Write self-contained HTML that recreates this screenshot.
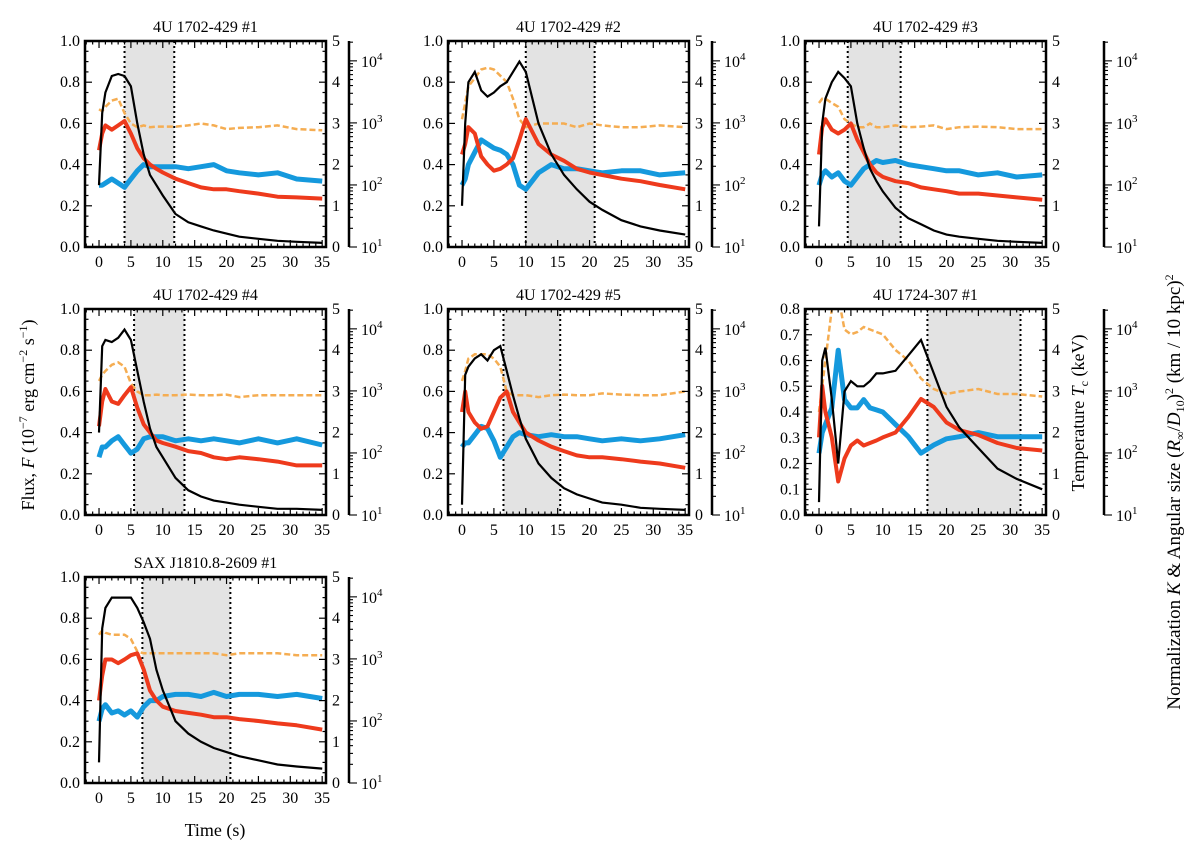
<!DOCTYPE html>
<html><head><meta charset="utf-8"><style>
body{margin:0;background:#fff;}
svg text{font-family:"Liberation Serif","DejaVu Serif",serif;fill:#000;}
</style></head><body>
<svg id="fig" width="1200" height="858" viewBox="0 0 1200 858" xmlns="http://www.w3.org/2000/svg">
<text x="0" y="0" transform="translate(34,415) rotate(-90)" text-anchor="middle" font-size="18">Flux, <tspan font-style="italic">F</tspan> (10<tspan dy="-7" font-size="12">−7</tspan><tspan dy="7"> erg cm</tspan><tspan dy="-7" font-size="12">−2</tspan><tspan dy="7"> s</tspan><tspan dy="-7" font-size="12">−1</tspan><tspan dy="7">)</tspan></text>
<text x="215" y="836" text-anchor="middle" font-size="18">Time (s)</text>
<text transform="translate(1084,413) rotate(-90)" text-anchor="middle" font-size="18">Temperature <tspan font-style="italic">T</tspan><tspan dy="4" font-size="12">c</tspan><tspan dy="-4"> (keV)</tspan></text>
<text transform="translate(1180,492) rotate(-90)" text-anchor="middle" font-size="19">Normalization <tspan font-style="italic">K</tspan> &amp; Angular size (<tspan font-style="italic">R</tspan><tspan dy="4" font-size="12">∞</tspan><tspan dy="-4">/</tspan><tspan font-style="italic">D</tspan><tspan dy="4" font-size="12">10</tspan><tspan dy="-4">)</tspan><tspan dy="-7" font-size="12">2</tspan><tspan dy="7"> (km / 10 kpc)</tspan><tspan dy="-7" font-size="12">2</tspan></text>
</svg>
<script>
const NS='http://www.w3.org/2000/svg';
const svg=document.getElementById('fig');
const T=[0,0.5,1,2,3,4,5,6,7,8,9,10,12,14,16,18,20,22,25,28,31,35];
const titles=['4U 1702-429 #1','4U 1702-429 #2','4U 1702-429 #3','4U 1702-429 #4','4U 1702-429 #5','4U 1724-307 #1','SAX J1810.8-2609 #1'];
const fluxMax=[1,1,1,1,1,0.8,1];
const shadeStart=[4,10,4.5,5.5,6.5,17,6.8];
const shadeEnd=[11.8,20.8,12.8,13.4,15.4,31.6,20.6];
const flux1=[0.3,0.65,0.75,0.83,0.84,0.83,0.78,0.6,0.45,0.35,0.3,0.25,0.16,0.12,0.1,0.08,0.065,0.05,0.04,0.03,0.025,0.02];
const flux2=[0.2,0.6,0.8,0.85,0.76,0.73,0.75,0.78,0.8,0.85,0.9,0.85,0.6,0.45,0.35,0.28,0.22,0.18,0.13,0.1,0.08,0.06];
const flux3=[0.1,0.6,0.72,0.8,0.85,0.82,0.78,0.6,0.48,0.38,0.32,0.27,0.19,0.14,0.11,0.08,0.06,0.05,0.04,0.03,0.025,0.02];
const flux4=[0.4,0.82,0.85,0.84,0.86,0.9,0.85,0.7,0.55,0.42,0.33,0.28,0.18,0.12,0.09,0.07,0.06,0.05,0.04,0.03,0.03,0.025];
const flux5=[0.05,0.68,0.72,0.76,0.78,0.75,0.8,0.82,0.7,0.58,0.47,0.37,0.25,0.18,0.13,0.1,0.08,0.06,0.05,0.035,0.03,0.025];
const flux6=[0.05,0.6,0.65,0.45,0.2,0.48,0.52,0.5,0.5,0.52,0.55,0.55,0.56,0.62,0.68,0.55,0.42,0.34,0.26,0.18,0.14,0.1];
const flux7=[0.1,0.75,0.85,0.9,0.9,0.9,0.9,0.85,0.78,0.7,0.55,0.45,0.3,0.24,0.2,0.17,0.15,0.13,0.11,0.09,0.08,0.07];
const temp1=[1.5,1.5,1.55,1.65,1.55,1.45,1.65,1.85,2.0,1.95,1.95,1.95,1.95,1.9,1.95,2.0,1.85,1.8,1.75,1.8,1.65,1.6];
const temp2=[1.5,1.65,2.0,2.3,2.6,2.5,2.4,2.35,2.25,2.0,1.5,1.4,1.8,2.0,1.9,1.9,1.85,1.8,1.85,1.85,1.75,1.8];
const temp3=[1.5,1.75,1.85,1.7,1.8,1.6,1.5,1.7,1.9,2.0,2.1,2.05,2.1,2.0,1.95,1.9,1.85,1.85,1.75,1.8,1.7,1.75];
const temp4=[1.4,1.65,1.65,1.8,1.9,1.7,1.5,1.6,1.85,1.9,1.9,1.9,1.8,1.85,1.8,1.85,1.8,1.75,1.85,1.75,1.85,1.7];
const temp5=[1.65,1.75,1.75,1.95,2.15,2.1,1.8,1.4,1.65,1.9,2.0,1.95,1.9,1.95,1.9,1.9,1.85,1.8,1.85,1.8,1.85,1.95];
const temp6=[1.5,2.0,2.2,2.6,4.0,2.8,2.6,2.6,2.8,2.6,2.55,2.5,2.2,1.9,1.5,1.7,1.85,1.9,2.0,1.9,1.9,1.9];
const temp7=[1.5,1.8,1.9,1.7,1.75,1.65,1.75,1.6,1.85,2.0,2.0,2.1,2.15,2.15,2.1,2.2,2.1,2.15,2.15,2.1,2.15,2.05];
const logK1=[2.56,2.83,2.96,2.89,2.96,3.03,2.83,2.59,2.43,2.33,2.26,2.20,2.10,2.03,1.96,1.93,1.93,1.90,1.86,1.81,1.80,1.78];
const logK2=[2.49,2.66,2.93,2.83,2.46,2.33,2.23,2.26,2.33,2.43,2.73,3.06,2.66,2.49,2.39,2.26,2.20,2.16,2.10,2.06,2.00,1.93];
const logK3=[2.49,2.93,3.06,2.89,2.83,2.89,2.99,2.73,2.53,2.33,2.20,2.13,2.06,2.03,1.96,1.93,1.90,1.86,1.86,1.83,1.80,1.76];
const logK4=[2.43,2.83,3.03,2.83,2.79,2.93,3.06,2.73,2.46,2.33,2.20,2.16,2.10,2.03,2.00,1.93,1.90,1.93,1.90,1.86,1.80,1.80];
const logK5=[2.66,2.99,2.66,2.49,2.39,2.43,2.66,2.89,2.99,2.66,2.49,2.33,2.20,2.10,2.03,1.96,1.93,1.93,1.90,1.86,1.83,1.76];
const logK6=[2.25,3.08,2.66,2.25,1.54,1.91,2.12,2.20,2.12,2.16,2.20,2.25,2.33,2.58,2.87,2.74,2.49,2.37,2.29,2.16,2.08,2.04];
const logK7=[2.33,2.73,2.99,2.99,2.93,2.99,3.06,3.09,2.83,2.49,2.33,2.23,2.16,2.13,2.10,2.06,2.06,2.03,2.00,1.96,1.93,1.86];
const logA1=[3.22,3.19,3.26,3.36,3.39,3.16,2.99,2.93,2.96,2.93,2.94,2.94,2.94,2.96,2.99,2.96,2.90,2.92,2.93,2.96,2.90,2.88];
const logA2=[3.06,3.32,3.59,3.72,3.86,3.89,3.86,3.76,3.66,3.39,3.06,2.93,2.99,2.99,2.99,2.93,2.99,2.96,2.93,2.93,2.96,2.93];
const logA3=[3.32,3.39,3.39,3.32,3.26,3.06,2.99,2.93,2.93,2.99,2.93,2.93,2.96,2.93,2.94,2.96,2.90,2.93,2.94,2.93,2.90,2.90];
const logA4=[3.16,3.26,3.32,3.42,3.46,3.39,3.12,2.99,2.93,2.93,2.94,2.93,2.93,2.94,2.93,2.93,2.94,2.90,2.93,2.93,2.93,2.93];
const logA5=[3.16,3.32,3.52,3.59,3.59,3.59,3.52,3.39,2.99,2.93,2.93,2.93,2.90,2.93,2.94,2.93,2.93,2.96,2.94,2.93,2.93,2.99];
const logA6=[2.66,3.08,3.49,4.32,4.53,3.99,3.91,3.95,4.03,3.99,3.95,3.91,3.66,3.49,3.20,3.03,2.95,2.99,3.03,2.95,2.95,2.91];
const logA7=[3.39,3.46,3.42,3.39,3.39,3.39,3.32,3.12,3.09,3.09,3.09,3.09,3.09,3.09,3.09,3.09,3.06,3.09,3.09,3.09,3.06,3.06];
const fluxes=[flux1,flux2,flux3,flux4,flux5,flux6,flux7];
const temps=[temp1,temp2,temp3,temp4,temp5,temp6,temp7];
const logKs=[logK1,logK2,logK3,logK4,logK5,logK6,logK7];
const logAs=[logA1,logA2,logA3,logA4,logA5,logA6,logA7];
const xTicks=[0,5,10,15,20,25,30,35];

const colX=[85,448,805], rowY=[41,309,577], W=241, H=206;
const logOff=[23,23,58];
const XMIN=-2.2, XMAX=35.6, LMIN=1, LMAX=4.32;
function el(tag,attrs,parent){const e=document.createElementNS(NS,tag);for(const k in attrs)e.setAttribute(k,attrs[k]);(parent||svg).appendChild(e);return e;}

for(let p=0;p<7;p++){
  const col=p%3,row=Math.floor(p/3);
  const L=colX[col],Tp=rowY[row],R=L+W,B=Tp+H;
  const sx=t=>L+(t-XMIN)/(XMAX-XMIN)*W;
  const syF=v=>B-v/fluxMax[p]*H;
  const syT=v=>B-v/5*H;
  const syL=v=>B-(Math.min(v,LMAX+0.3)-LMIN)/(LMAX-LMIN)*H;
  const g=el('g',{});
  
  
  const clipId='clip'+p;
  const cp=el('clipPath',{id:clipId},g);el('rect',{x:L,y:Tp,width:W,height:H},cp);
  const sh=el('rect',{x:sx(shadeStart[p]),y:Tp,width:sx(shadeEnd[p])-sx(shadeStart[p]),height:H,fill:'#e3e3e3'},g);
  
  
  [shadeStart[p],shadeEnd[p]].forEach(v=>{const ln=el('line',{x1:sx(v),x2:sx(v),y1:Tp,y2:B,stroke:'#000','stroke-width':2,'stroke-dasharray':'2,3'},g);
    
    });
  const dg=el('g',{'clip-path':'url(#'+clipId+')'},g);
  const mk=(arr,fy)=>arr.map((v,i)=>sx(T[i]).toFixed(1)+','+fy(v).toFixed(1)).join(' ');
  const oa=el('polyline',{points:mk(logAs[p],syL),fill:'none',stroke:'#f5ad52','stroke-width':2.5,'stroke-dasharray':'6,3'},dg);
  
  
  const bt=el('polyline',{points:mk(temps[p],syT),fill:'none',stroke:'#1599dd','stroke-width':5,'stroke-linejoin':'round'},dg);
  
  
  const rk=el('polyline',{points:mk(logKs[p],syL),fill:'none',stroke:'#ee3a1c','stroke-width':4,'stroke-linejoin':'round'},dg);
  
  
  const fl=el('polyline',{points:mk(fluxes[p],syF),fill:'none',stroke:'#000','stroke-width':2.2},dg);
  
  
  el('rect',{x:L,y:Tp,width:W,height:H,fill:'none',stroke:'#000','stroke-width':2.5},g);
  for(let t=-2;t<=35;t++){const x=sx(t);const len=t%5===0?7:3.5;
    el('line',{x1:x,x2:x,y1:B,y2:B-len,stroke:'#000','stroke-width':1.2},g);
    el('line',{x1:x,x2:x,y1:Tp,y2:Tp+len,stroke:'#000','stroke-width':1.2},g);}
  xTicks.forEach(t=>{const tx=el('text',{x:sx(t),y:B+20,'text-anchor':'middle','font-size':16},g);tx.textContent=t;
    
    });
  const fm=fluxMax[p],step=fm<1?0.1:0.2,mstep=fm<1?0.02:0.05;
  for(let v=0;v<=fm+1e-9;v+=mstep){const y=syF(v);const major=Math.abs(v/step-Math.round(v/step))<1e-6;
    el('line',{x1:L,x2:L+(major?7:3.5),y1:y,y2:y,stroke:'#000','stroke-width':1.2},g);}
  for(let v=0;v<=fm+1e-9;v+=step){const tx=el('text',{x:L-5,y:syF(v)+5,'text-anchor':'end','font-size':16},g);tx.textContent=v.toFixed(1);
    
    }
  for(let v=0;v<=5.001;v+=0.25){const y=syT(v);const major=Math.abs(v-Math.round(v))<1e-6;
    el('line',{x1:R,x2:R-(major?7:3.5),y1:y,y2:y,stroke:'#000','stroke-width':1.2},g);}
  for(let v=0;v<=5;v++){const tx=el('text',{x:R+6,y:syT(v)+5,'font-size':16},g);tx.textContent=v;
    
    }
  const LX=R+logOff[col];
  el('line',{x1:LX,x2:LX,y1:Tp,y2:B,stroke:'#000','stroke-width':2.5},g);
  for(let d=1;d<=4;d++){for(let m=1;m<10;m++){const lv=d+Math.log10(m);if(lv>LMAX)break;const y=syL(lv);
    el('line',{x1:LX,x2:LX+(m===1?8:4),y1:y,y2:y,stroke:'#000','stroke-width':1.1},g);}
    const tx=el('text',{x:LX+12,y:syL(d)+6,'font-size':16},g);
    
    
    tx.innerHTML='10<tspan dy="-7" font-size="11">'+d+'</tspan>';}
  const tt=el('text',{x:L+W/2,y:Tp-9,'text-anchor':'middle','font-size':16},g);tt.textContent=titles[p];
  
  
}
</script>
</body></html>
